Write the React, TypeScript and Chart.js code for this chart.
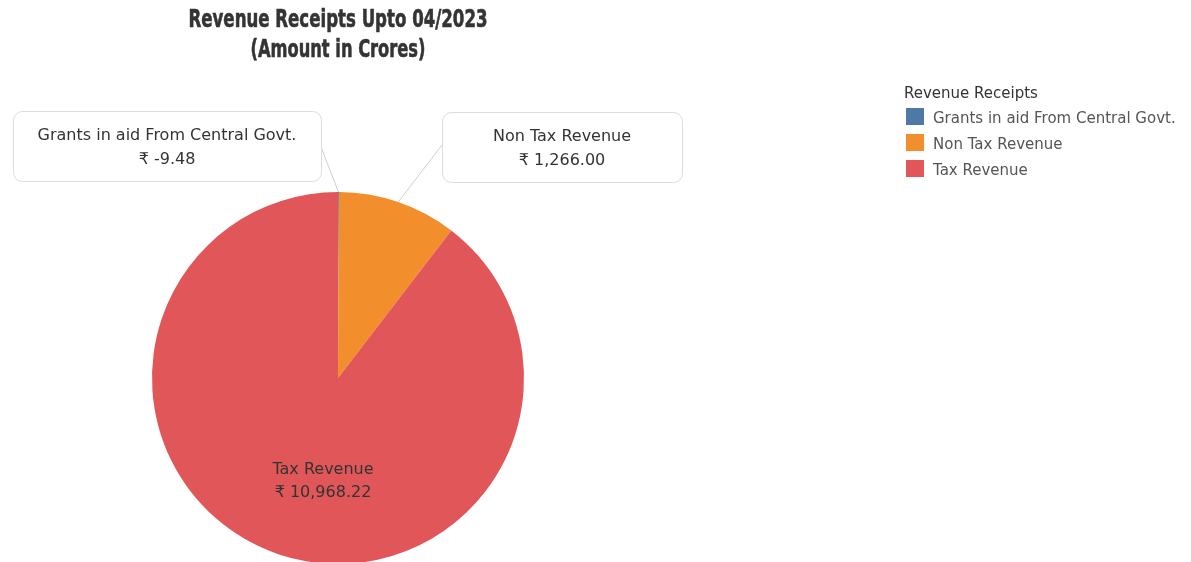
import React, { useEffect, useRef } from "react";
import { Chart, registerables } from "chart.js";

Chart.register(...registerables);

const categories = ["Grants in aid From Central Govt.", "Non Tax Revenue", "Tax Revenue"];
const values = [-9.48, 1266.0, 10968.22];
const valueLabels = ["₹ -9.48", "₹ 1,266.00", "₹ 10,968.22"];
const colors = ["#4e79a7", "#f28e2b", "#e15759"];
const titleLines = ["Revenue Receipts Upto 04/2023", "(Amount in Crores)"];
const legendTitle = "Revenue Receipts";

const W = 1191;
const H = 600;
const FONT = '"DejaVu Sans", "Noto Sans", sans-serif';

function roundRect(ctx: CanvasRenderingContext2D, x: number, y: number, w: number, h: number, r: number) {
  ctx.beginPath();
  ctx.moveTo(x + r, y);
  ctx.lineTo(x + w - r, y);
  ctx.arcTo(x + w, y, x + w, y + r, r);
  ctx.lineTo(x + w, y + h - r);
  ctx.arcTo(x + w, y + h, x + w - r, y + h, r);
  ctx.lineTo(x + r, y + h);
  ctx.arcTo(x, y + h, x, y + h - r, r);
  ctx.lineTo(x, y + r);
  ctx.arcTo(x, y, x + r, y, r);
  ctx.closePath();
}

// callout boxes for the small slices (index -> box layout)
const callouts = [
  { index: 0, x: 13, y: 111, w: 308, h: 70, ax: 321, ay: 147 },
  { index: 1, x: 442, y: 112, w: 240, h: 70, ax: 442, ay: 145 },
];

const overlayPlugin = {
  id: "overlay",
  afterDraw(chart: any) {
    const ctx: CanvasRenderingContext2D = chart.ctx;
    const arcs = chart.getDatasetMeta(0).data as any[];
    const cx = arcs[0].x;
    const cy = arcs[0].y;
    ctx.save();

    // Title (condensed bold)
    ctx.fillStyle = "#343434";
    ctx.textAlign = "center";
    ctx.textBaseline = "alphabetic";
    ctx.font = 'bold 25px "Liberation Sans Narrow", "DejaVu Sans Condensed", sans-serif';
    const titleWidths = [299, 175];
    const titleBase = [27, 57];
    titleLines.forEach((t, i) => {
      const m = ctx.measureText(t).width;
      ctx.save();
      ctx.translate(cx, titleBase[i]);
      ctx.scale(titleWidths[i] / m, 1);
      ctx.fillText(t, 0, 0);
      ctx.lineWidth = 0.6;
      ctx.strokeStyle = "#343434";
      ctx.strokeText(t, 0, 0);
      ctx.restore();
    });

    // Callouts with leader lines
    callouts.forEach((c) => {
      const a = arcs[c.index];
      const mid = (a.startAngle + a.endAngle) / 2;
      const px = a.x + Math.cos(mid) * a.outerRadius;
      const py = a.y + Math.sin(mid) * a.outerRadius;
      ctx.strokeStyle = "#cfcfcf";
      ctx.lineWidth = 1;
      ctx.beginPath();
      ctx.moveTo(c.ax, c.ay);
      ctx.lineTo(px, py);
      ctx.stroke();
      roundRect(ctx, c.x + 0.5, c.y + 0.5, c.w, c.h, 9);
      ctx.fillStyle = "#ffffff";
      ctx.fill();
      ctx.strokeStyle = "#dcdcdc";
      ctx.stroke();
      ctx.fillStyle = "#333333";
      ctx.font = `16px ${FONT}`;
      ctx.textAlign = "center";
      ctx.fillText(categories[c.index], c.x + c.w / 2, c.y + 29);
      ctx.fillText(valueLabels[c.index], c.x + c.w / 2, c.y + 53);
    });

    // Inside label for the large slice
    ctx.fillStyle = "#333333";
    ctx.font = `16px ${FONT}`;
    ctx.textAlign = "center";
    ctx.fillText(categories[2], cx - 15, cy + 96);
    ctx.fillText(valueLabels[2], cx - 15, cy + 119);

    // Legend
    ctx.textAlign = "left";
    ctx.fillStyle = "#333333";
    ctx.font = `15px ${FONT}`;
    ctx.fillText(legendTitle, 904, 98);
    const rowTop = [108, 134, 160];
    categories.forEach((name, i) => {
      ctx.fillStyle = colors[i];
      ctx.fillRect(906, rowTop[i], 18, 17);
      ctx.fillStyle = "#555555";
      ctx.font = `15px ${FONT}`;
      ctx.fillText(name, 933, rowTop[i] + 15);
    });

    ctx.restore();
  },
};

export default function App() {
  const ref = useRef<HTMLCanvasElement | null>(null);
  useEffect(() => {
    if (!ref.current) return;
    const chart = new Chart(ref.current, {
      type: "pie",
      data: {
        labels: categories,
        datasets: [
          {
            data: values,
            backgroundColor: colors,
            borderWidth: 0,
          },
        ],
      },
      options: {
        responsive: false,
        animation: false,
        layout: { padding: { left: 152, right: W - 524, top: 192, bottom: H - 564 } },
        plugins: {
          legend: { display: false },
          title: { display: false },
          tooltip: { enabled: false },
        },
      },
      plugins: [overlayPlugin],
    });
    return () => chart.destroy();
  }, []);
  return (
    <div style={{ position: "fixed", left: 0, top: 0, width: W, height: H, background: "#fff" }}>
      <canvas ref={ref} width={W} height={H} style={{ display: "block", width: W, height: H }} />
    </div>
  );
}
